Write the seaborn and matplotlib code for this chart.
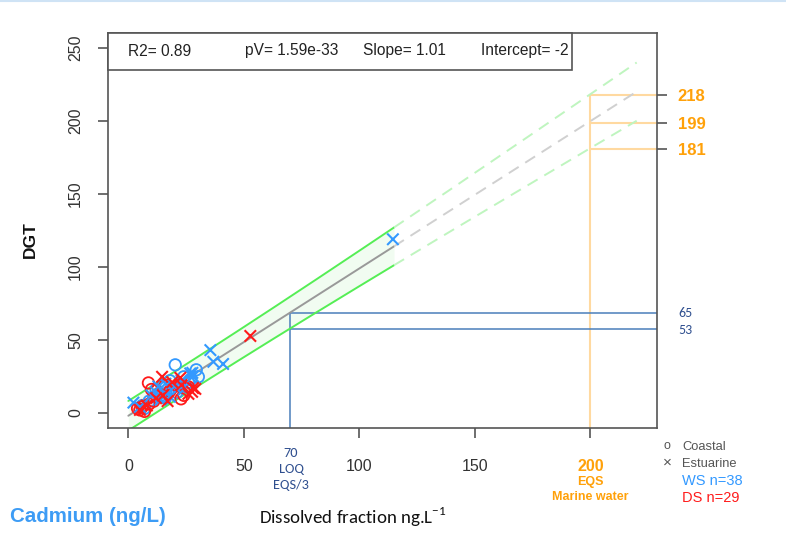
import matplotlib
matplotlib.use("Agg")
import matplotlib.pyplot as plt
from matplotlib.patches import Rectangle
from matplotlib.lines import Line2D
import numpy as np
import pandas as pd
import seaborn as sns

# ---------------- data ----------------
ws_coastal_x = [20.3, 29.4, 30.3, 24, 18, 15, 12, 22, 26, 17, 9, 6, 14, 19, 11, 25, 7, 21, 16, 27]
ws_coastal_y = [32.9, 29.5, 24.7, 24.7, 22, 19, 16, 20, 21, 14, 8, 5, 12, 17, 11, 18, 3, 14, 10, 23]
ws_estuar_x = [114.5, 35.5, 36.8, 41, 27.7, 26.8, 2.2, 13, 16, 20, 23, 10, 18, 24, 14, 5, 28, 12]
ws_estuar_y = [119, 43, 35, 33.5, 27.4, 27, 7, 18, 20, 18, 22, 12, 11, 16, 9, 4, 25, 14]
ds_coastal_x = [8.7, 16, 21.3, 26, 22.8, 5, 6, 7, 4, 9, 11, 13, 18, 24, 10]
ds_coastal_y = [20.5, 19, 18.5, 17.8, 9.6, 2, 4, 1, 3, 6, 8, 13, 15, 12, 16]
ds_estuar_x = [52.8, 14.6, 22.5, 29, 27.6, 26, 19, 15, 12, 8, 5, 17, 23, 28]
ds_estuar_y = [52.7, 24.7, 24, 16.4, 14.4, 13, 21, 12, 10, 5, 2, 8, 19, 17]

stats_labels = ["R2= 0.89", "pV= 1.59e-33", "Slope= 1.01", "Intercept= -2"]
slope = 1.01
intercept = -2.0
band_h0 = 10.0       # half width of prediction band near mean x
band_xm = 20.0       # mean of x
band_k = 0.00747     # growth of band
fit_xmax = 115.0
ext_xmax = 220.0

eqs_x = 200
eqs_vals = [218, 199, 181]
loq_x = 70
loq_labels = ["65", "53"]

xticks = [0, 50, 100, 150, 200]
yticks = [0, 50, 100, 150, 200, 250]

legend_shape = ["Coastal", "Estuarine"]
legend_group = ["WS n=38", "DS n=29"]

BLUE = "#3399ff"
RED = "#ff1a1a"
ORANGE = "#ffa10a"
NAVY = "#2f4f8f"
LBLUE = "#4a7ebb"

rows = []
for xs, ys, g, s in [(ws_coastal_x, ws_coastal_y, "WS", "Coastal"),
                     (ws_estuar_x, ws_estuar_y, "WS", "Estuarine"),
                     (ds_coastal_x, ds_coastal_y, "DS", "Coastal"),
                     (ds_estuar_x, ds_estuar_y, "DS", "Estuarine")]:
    for a, b in zip(xs, ys):
        rows.append((a, b, g, s))
df = pd.DataFrame(rows, columns=["x", "y", "group", "site"])

# ---------------- figure ----------------
sns.set_theme(style="white")
plt.rcParams["font.family"] = ["Liberation Sans", "DejaVu Sans"]
CAL = ["Carlito", "DejaVu Sans"]

W, H = 786, 540
fig = plt.figure(figsize=(W / 100, H / 100), dpi=100)
ax = fig.add_axes([108 / W, 1 - 428 / H, (657 - 108) / W, (428 - 33) / H])
XL = (-8.8, 228.8)
YL = (-10.4, 260.4)
ax.set_xlim(*XL)
ax.set_ylim(*YL)

def band(x):
    return np.sqrt(band_h0 ** 2 + band_k * (x - band_xm) ** 2)

xs_s = np.linspace(0, fit_xmax, 200)
xs_d = np.linspace(fit_xmax, ext_xmax, 200)
fs = slope * xs_s + intercept
fd = slope * xs_d + intercept
ax.fill_between(xs_s, fs - band(xs_s), fs + band(xs_s), color="#f1fcf1", zorder=1, lw=0)
ax.plot(xs_s, fs + band(xs_s), color="#55ee55", lw=1.4, zorder=2)
ax.plot(xs_s, fs - band(xs_s), color="#55ee55", lw=1.4, zorder=2)
ax.plot(xs_s, fs, color="#999999", lw=1.4, zorder=2)
ax.plot(xs_d, fd + band(xs_d), color="#bff5bf", lw=1.4, ls=(0, (6, 4)), zorder=2)
ax.plot(xs_d, fd - band(xs_d), color="#bff5bf", lw=1.4, ls=(0, (6, 4)), zorder=2)
ax.plot(xs_d, fd, color="#d0d0d0", lw=1.4, ls=(0, (6, 4)), zorder=2)

# EQS lines (orange)
top_eqs = max(eqs_vals)
ax.plot([eqs_x, eqs_x], [YL[0], top_eqs], color="#ffd9a0", lw=1.5, zorder=1.5)
for v in eqs_vals:
    ax.plot([eqs_x, XL[1]], [v, v], color="#ffd9a0", lw=1.5, zorder=1.5)

# LOQ lines (blue)
loq_fit = slope * loq_x + intercept
loq_low = loq_fit - band(loq_x)
ax.plot([loq_x, loq_x], [YL[0], loq_fit], color=LBLUE, lw=1.1, zorder=1.6)
for v in [loq_fit, loq_low]:
    ax.plot([loq_x, XL[1]], [v, v], color=LBLUE, lw=1.1, zorder=1.6)

# points
pal = {"WS": BLUE, "DS": RED}
sns.scatterplot(data=df[df.site == "Coastal"], x="x", y="y", hue="group", palette=pal,
                marker="o", s=68, legend=False, ax=ax, zorder=3)
coll = ax.collections[-1]
fcs = coll.get_facecolors()
coll.set_edgecolors(fcs)
coll.set_facecolor("none")
coll.set_linewidth(1.3)
sns.scatterplot(data=df[df.site == "Estuarine"], x="x", y="y", hue="group", palette=pal,
                marker="x", s=68, linewidth=1.5, legend=False, ax=ax, zorder=3)

# axes styling
for sp in ax.spines.values():
    sp.set_color("#555555")
    sp.set_linewidth(1.2)
ax.set_xticks(xticks)
ax.set_yticks(yticks)
ax.tick_params(axis="both", direction="out", length=7, width=1.2, color="#555555",
               labelcolor="#333333", labelsize=11.5)
ax.tick_params(axis="x", pad=15, bottom=True)
ax.tick_params(axis="y", pad=11, left=True)
ax.set_xticklabels([str(t) for t in xticks])
ax.set_yticklabels([str(t) for t in yticks], rotation=90, va="center")
lab200 = ax.get_xticklabels()[-1]
lab200.set_color(ORANGE)
lab200.set_fontweight("bold")
ax.set_xlabel("")
ax.set_ylabel("")

# right axis ticks for EQS values
ax2 = ax.twinx()
ax2.set_ylim(*YL)
ax2.set_yticks(eqs_vals)
ax2.set_yticklabels([str(v) for v in eqs_vals], color=ORANGE, fontweight="bold", fontsize=12)
ax2.tick_params(axis="y", direction="out", length=7, width=1.2, color="#555555", pad=8, right=True)
for sp in ax2.spines.values():
    sp.set_visible(False)

# top stats box
ax.add_patch(Rectangle((0, (428 - 70) / 395), (572 - 108) / 549, 1 - (428 - 70) / 395,
                       transform=ax.transAxes, facecolor="white", edgecolor="#555555",
                       lw=1.2, zorder=5, clip_on=False))
for px, t in zip([128, 245, 363, 481], stats_labels):
    ax.text((px - 108) / 549, (428 - 51) / 395, t, transform=ax.transAxes, ha="left",
            va="center", fontsize=11.2, color="#222222", zorder=6)

def F(px, py):
    return px / W, 1 - py / H

# right labels for LOQ lines
for lab, py in zip(loq_labels, [313, 330]):
    fig.text(*F(678, py), lab, fontsize=10, family=CAL, color=NAVY, ha="left", va="center")

# bottom annotations
for t, py in zip(["70", "LOQ", "EQS/3"], [453, 469, 485]):
    fig.text(*F(291, py), t, fontsize=10.3, family=CAL, color=NAVY, ha="center", va="center")
for t, py in zip(["EQS", "Marine water"], [482, 497]):
    fig.text(*F(590, py), t, fontsize=9, color=ORANGE, fontweight="bold", ha="center", va="center")

# legend (manual)
fig.text(*F(667, 446), "o", fontsize=9, color="#555555", ha="center", va="center")
fig.text(*F(667, 463), "×", fontsize=11, color="#555555", ha="center", va="center")
fig.text(*F(682, 447), legend_shape[0], fontsize=9.3, color="#555555", ha="left", va="center")
fig.text(*F(682, 464), legend_shape[1], fontsize=9.3, color="#555555", ha="left", va="center")
fig.text(*F(682, 481), legend_group[0], fontsize=10.5, color=BLUE, ha="left", va="center")
fig.text(*F(682, 498), legend_group[1], fontsize=10.5, color=RED, ha="left", va="center")

# axis titles
fig.text(*F(30, 240), "DGT", rotation=90, fontsize=12.5, fontweight="bold", color="#111111",
         ha="center", va="center")
fig.text(*F(10, 516), "Cadmium (ng/L)", fontsize=14.8, fontweight="bold", color="#3d9cf5",
         ha="left", va="center")
fig.text(*F(259, 517), "Dissolved fraction ng.L$^{\\mathregular{-1}}$", fontsize=13.6,
         family=CAL, color="#111111", ha="left", va="center")

# thin line at very top
fig.add_artist(Line2D([0, 1], [1 - 1 / H, 1 - 1 / H], transform=fig.transFigure,
                      color="#cfe3f5", lw=1.5))

fig.savefig("out.png", dpi=100)
